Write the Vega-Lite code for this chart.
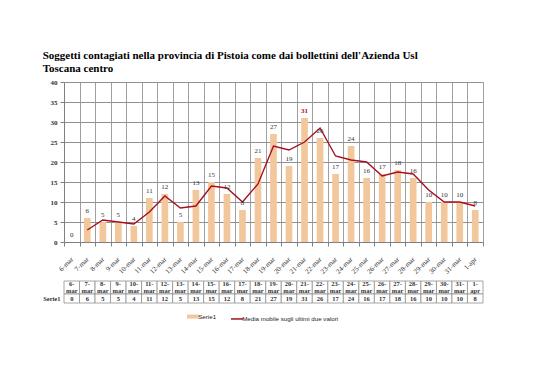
{
  "$schema": "https://vega.github.io/schema/vega-lite/v6.json",
  "background": "white",
  "padding": {"left": 42, "top": 50, "right": 10, "bottom": 5},
  "title": {
    "text": ["Soggetti contagiati nella provincia di Pistoia come dai bollettini dell'Azienda Usl", "Toscana centro"],
    "anchor": "start",
    "font": "Liberation Serif",
    "fontSize": 11,
    "fontWeight": "bold",
    "color": "#000000",
    "lineHeight": 13,
    "offset": 4
  },
  "datasets": {
    "d": [
      {"giorno": "6-mar", "tab": "6-|mar", "casi": 0, "media": null},
      {"giorno": "7-mar", "tab": "7-|mar", "casi": 6, "media": 3},
      {"giorno": "8-mar", "tab": "8-|mar", "casi": 5, "media": 5.5},
      {"giorno": "9-mar", "tab": "9-|mar", "casi": 5, "media": 5},
      {"giorno": "10-mar", "tab": "10-|mar", "casi": 4, "media": 4.5},
      {"giorno": "11-mar", "tab": "11-|mar", "casi": 11, "media": 7.5},
      {"giorno": "12-mar", "tab": "12-|mar", "casi": 12, "media": 11.5},
      {"giorno": "13-mar", "tab": "13-|mar", "casi": 5, "media": 8.5},
      {"giorno": "14-mar", "tab": "14-|mar", "casi": 13, "media": 9},
      {"giorno": "15-mar", "tab": "15-|mar", "casi": 15, "media": 14},
      {"giorno": "16-mar", "tab": "16-|mar", "casi": 12, "media": 13.5},
      {"giorno": "17-mar", "tab": "17-|mar", "casi": 8, "media": 10},
      {"giorno": "18-mar", "tab": "18-|mar", "casi": 21, "media": 14.5},
      {"giorno": "19-mar", "tab": "19-|mar", "casi": 27, "media": 24},
      {"giorno": "20-mar", "tab": "20-|mar", "casi": 19, "media": 23},
      {"giorno": "21-mar", "tab": "21-|mar", "casi": 31, "media": 25},
      {"giorno": "22-mar", "tab": "22-|mar", "casi": 26, "media": 28.5},
      {"giorno": "23-mar", "tab": "23-|mar", "casi": 17, "media": 21.5},
      {"giorno": "24-mar", "tab": "24-|mar", "casi": 24, "media": 20.5},
      {"giorno": "25-mar", "tab": "25-|mar", "casi": 16, "media": 20},
      {"giorno": "26-mar", "tab": "26-|mar", "casi": 17, "media": 16.5},
      {"giorno": "27-mar", "tab": "27-|mar", "casi": 18, "media": 17.5},
      {"giorno": "28-mar", "tab": "28-|mar", "casi": 16, "media": 17},
      {"giorno": "29-mar", "tab": "29-|mar", "casi": 10, "media": 13},
      {"giorno": "30-mar", "tab": "30-|mar", "casi": 10, "media": 10},
      {"giorno": "31-mar", "tab": "31-|mar", "casi": 10, "media": 10},
      {"giorno": "1-apr", "tab": "1-|apr", "casi": 8, "media": 9}
    ]
  },
  "spacing": 5,
  "vconcat": [
    {
      "width": 419,
      "height": 160,
      "data": {"name": "d"},
      "encoding": {
        "x": {
          "field": "giorno", "type": "ordinal", "sort": null,
          "scale": {"paddingInner": 0, "paddingOuter": 0},
          "axis": {
            "title": null, "labelAngle": -45, "labelAlign": "right", "labelBaseline": "middle",
            "labelFont": "Liberation Serif", "labelFontSize": 7, "labelColor": "#333333",
            "tickBand": "extent", "tickSize": 4, "tickColor": "#808080", "domainColor": "#808080",
            "grid": true, "gridColor": "#a0a0a0", "gridWidth": 1, "labelPadding": 12
          }
        },
        "y": {
          "field": "casi", "type": "quantitative",
          "scale": {"domain": [0, 40]},
          "axis": {
            "title": null, "values": [0, 5, 10, 15, 20, 25, 30, 35, 40], "labelOverlap": false,
            "labelFont": "Liberation Serif", "labelFontSize": 7, "labelFontWeight": "bold", "labelColor": "#333333",
            "grid": true, "gridColor": "#909090", "tickColor": "#808080", "tickSize": 4, "domainColor": "#808080", "labelPadding": 3
          }
        }
      },
      "layer": [
        {
          "mark": {"type": "bar", "width": {"band": 0.43}},
          "encoding": {
            "color": {
              "datum": "Serie1", "type": "nominal",
              "scale": {"domain": ["Serie1", "Media mobile sugli ultimi due valori"], "range": ["#f2c79c", "#a50f1e"]},
              "legend": {
                "title": null, "orient": "none", "direction": "horizontal", "legendX": 126, "legendY": 231,
                "symbolType": "stroke", "symbolSize": 150, "symbolStrokeWidth": 2,
                "labelFont": "Liberation Sans", "labelFontSize": 6.2, "labelColor": "#222222",
                "columnPadding": 10, "labelOffset": 2,
                "encode": {"symbols": {"update": {
                  "stroke": {"scale": "color", "field": "value"},
                  "strokeWidth": {"signal": "datum.value == 'Serie1' ? 4 : 1.5"}
                }}}
              }
            }
          }
        },
        {
          "mark": {"type": "line", "strokeWidth": 1.4},
          "encoding": {
            "y": {"field": "media", "type": "quantitative"},
            "color": {"datum": "Media mobile sugli ultimi due valori", "type": "nominal"}
          }
        },
        {
          "transform": [{"filter": "datum.casi != 31"}],
          "mark": {"type": "text", "dy": -7, "font": "Liberation Serif", "fontSize": 7, "color": "#333333"},
          "encoding": {
            "text": {"field": "casi", "type": "quantitative"}
          }
        },
        {
          "transform": [{"filter": "datum.casi == 31"}],
          "mark": {"type": "text", "dy": -7, "font": "Liberation Serif", "fontSize": 7, "fontWeight": "bold", "color": "#c00000"},
          "encoding": {
            "text": {"field": "casi", "type": "quantitative"}
          }
        }
      ]
    },
    {
      "width": 419,
      "height": 22,
      "data": {"name": "d"},
      "encoding": {
        "x": {"field": "giorno", "type": "ordinal", "sort": null, "scale": {"paddingInner": 0, "paddingOuter": 0}, "axis": null}
      },
      "layer": [
        {
          "mark": {"type": "rect", "fill": "white", "stroke": "#909090", "strokeWidth": 0.8},
          "encoding": {
            "y": {"datum": 9, "type": "quantitative", "scale": {"domain": [0, 22], "nice": false},
              "axis": {"title": null, "values": [4.5], "labelExpr": "'Serie1'", "labelFont": "Liberation Serif", "labelFontSize": 6.5, "labelFontWeight": "bold", "labelColor": "#333333", "ticks": false, "domain": false, "grid": false, "labelPadding": 4}},
            "y2": {"datum": 22}
          }
        },
        {
          "mark": {"type": "rect", "fill": "white", "stroke": "#909090", "strokeWidth": 0.8},
          "encoding": {
            "y": {"datum": 0, "type": "quantitative"},
            "y2": {"datum": 9}
          }
        },
        {
          "mark": {"type": "text", "font": "Liberation Serif", "fontSize": 6.5, "fontWeight": "bold", "color": "#333333", "lineBreak": "|", "lineHeight": 7, "dy": -3.5},
          "encoding": {
            "y": {"datum": 15.5, "type": "quantitative"},
            "text": {"field": "tab", "type": "nominal"}
          }
        },
        {
          "mark": {"type": "text", "font": "Liberation Serif", "fontSize": 6.5, "fontWeight": "bold", "color": "#333333"},
          "encoding": {
            "y": {"datum": 4.5, "type": "quantitative"},
            "text": {"field": "casi", "type": "quantitative"}
          }
        }
      ]
    }
  ],
  "config": {"view": {"stroke": null}}
}
